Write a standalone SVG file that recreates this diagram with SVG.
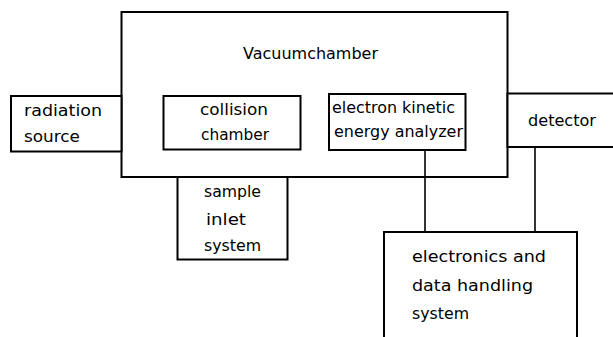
<svg xmlns="http://www.w3.org/2000/svg" width="613" height="337" viewBox="0 0 613 337">
<style>
.box{fill:#fff;stroke:#000;stroke-width:2}
.lbl{font-family:"DejaVu Sans","Liberation Sans",sans-serif;font-size:16px;fill:#000}
.big{font-size:16.5px}
.conn{stroke:#000;stroke-width:1.6;fill:none}
</style>
<rect width="613" height="337" fill="#fff"/>
<g id="vacuumchamber">
<rect class="box" x="121.5" y="12" width="386" height="165"/>
<text class="lbl big" x="243" y="59" textLength="135" lengthAdjust="spacingAndGlyphs">Vacuumchamber</text>
</g>
<g id="radiation-source">
<rect class="box" x="11" y="96" width="110.5" height="55.5"/>
<text class="lbl" x="24" y="116" textLength="78" lengthAdjust="spacingAndGlyphs">radiation</text>
<text class="lbl" x="24" y="142" textLength="56" lengthAdjust="spacingAndGlyphs">source</text>
</g>
<g id="collision-chamber">
<rect class="box" x="163.5" y="96" width="137" height="53.5"/>
<text class="lbl" x="200" y="115" textLength="68" lengthAdjust="spacingAndGlyphs">collision</text>
<text class="lbl" x="201" y="140" textLength="68" lengthAdjust="spacingAndGlyphs">chamber</text>
</g>
<g id="analyzer">
<rect class="box" x="329" y="94" width="136.5" height="56"/>
<text class="lbl" x="332" y="113" textLength="123" lengthAdjust="spacingAndGlyphs">electron kinetic</text>
<text class="lbl" x="334" y="137" textLength="129" lengthAdjust="spacingAndGlyphs">energy  analyzer</text>
</g>
<g id="detector">
<rect class="box" x="507.5" y="93.5" width="120" height="53.5"/>
<text class="lbl" x="528" y="126" textLength="68" lengthAdjust="spacingAndGlyphs">detector</text>
</g>
<g id="sample-inlet">
<rect class="box" x="177.5" y="177" width="110" height="82.5"/>
<text class="lbl" x="204" y="197" textLength="57" lengthAdjust="spacingAndGlyphs">sample</text>
<text class="lbl" x="206" y="225" textLength="40" lengthAdjust="spacingAndGlyphs">inlet</text>
<text class="lbl" x="204" y="251" textLength="57" lengthAdjust="spacingAndGlyphs">system</text>
</g>
<g id="electronics">
<rect class="box" x="384" y="232" width="193" height="120"/>
<text class="lbl" x="412" y="262" textLength="134" lengthAdjust="spacingAndGlyphs">electronics  and</text>
<text class="lbl" x="412" y="291" textLength="121" lengthAdjust="spacingAndGlyphs">data  handling</text>
<text class="lbl" x="412" y="319" textLength="57" lengthAdjust="spacingAndGlyphs">system</text>
</g>
<g id="connectors">
<line class="conn" x1="425" y1="150" x2="425" y2="232"/>
<line class="conn" x1="535" y1="147" x2="535" y2="232"/>
</g>
</svg>
